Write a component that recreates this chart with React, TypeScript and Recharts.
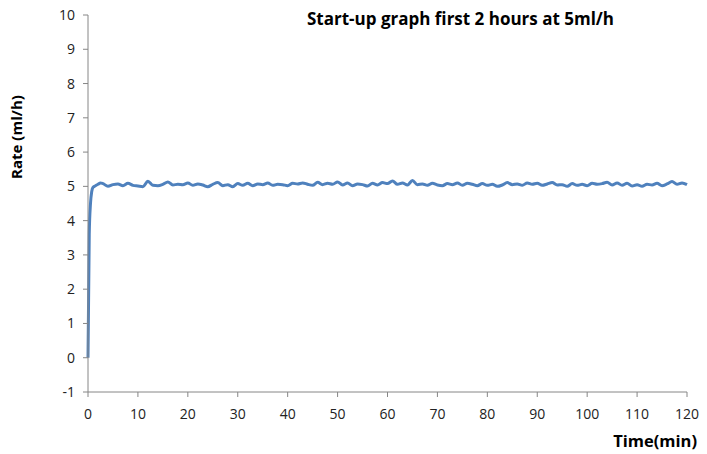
import { LineChart, Line, XAxis, YAxis } from 'recharts';

const timeMin = [
  0, 0.25, 0.5, 0.75, 1, 1.5, 2, 2.5,
  3, 4, 5, 6, 7, 8, 9, 10, 11, 12, 13, 14, 15, 16, 17, 18, 19, 20,
  21, 22, 23, 24, 25, 26, 27, 28, 29, 30, 31, 32, 33, 34, 35, 36, 37, 38, 39, 40,
  41, 42, 43, 44, 45, 46, 47, 48, 49, 50, 51, 52, 53, 54, 55, 56, 57, 58, 59, 60,
  61, 62, 63, 64, 65, 66, 67, 68, 69, 70, 71, 72, 73, 74, 75, 76, 77, 78, 79, 80,
  81, 82, 83, 84, 85, 86, 87, 88, 89, 90, 91, 92, 93, 94, 95, 96, 97, 98, 99, 100,
  101, 102, 103, 104, 105, 106, 107, 108, 109, 110, 111, 112, 113, 114, 115, 116, 117, 118, 119, 120,
];

const rate = [
  0, 3.6, 4.5, 4.85, 4.97, 5.02, 5.06, 5.1,
  5.08, 5.0, 5.05, 5.07, 5.02, 5.09, 5.03, 5.01, 4.99, 5.15, 5.03, 5.02, 5.06, 5.13, 5.04, 5.06, 5.05, 5.1,
  5.03, 5.07, 5.04, 4.99, 5.06, 5.11, 5.02, 5.05, 4.99, 5.08, 5.03, 5.09, 5.02, 5.07, 5.05, 5.1, 5.03, 5.06, 5.05, 5.02,
  5.09, 5.07, 5.1, 5.06, 5.03, 5.12, 5.05, 5.09, 5.06, 5.13, 5.04, 5.1, 5.02, 5.07, 5.05, 5.01, 5.09, 5.04, 5.11, 5.08,
  5.16, 5.06, 5.1, 5.04, 5.17, 5.05, 5.07, 5.03, 5.09, 5.04, 5.02, 5.08, 5.05, 5.1, 5.03, 5.09, 5.06, 5.02, 5.08, 5.03,
  5.06, 5.0, 5.04, 5.11, 5.05, 5.07, 5.03, 5.1, 5.06, 5.09, 5.03, 5.07, 5.11, 5.04, 5.05, 5.0, 5.08, 5.03, 5.06, 5.02,
  5.09, 5.06, 5.08, 5.12, 5.04, 5.1, 5.03, 5.09, 5.01, 5.05, 5.0, 5.06, 5.04, 5.09, 5.02, 5.07, 5.14, 5.06, 5.1, 5.05,
];

const xTicks = [0, 10, 20, 30, 40, 50, 60, 70, 80, 90, 100, 110, 120];
const yTicks = [-1, 0, 1, 2, 3, 4, 5, 6, 7, 8, 9, 10];

const data = timeMin.map((t, i) => ({ t, rate: rate[i] }));

const tickStyle = { fontSize: 14, fill: '#222', fontFamily: 'Open Sans, sans-serif' };
const boldText = { fontFamily: 'Open Sans, sans-serif', fontWeight: 700, color: '#000' };

export default function App() {
  return (
    <div style={{ position: 'absolute', left: 0, top: 0, width: 707, height: 454, background: '#fff' }}>
      <LineChart width={707} height={454} data={data} margin={{ top: 15, right: 20, left: 0, bottom: 32 }}>
        <XAxis
          dataKey="t"
          type="number"
          domain={[0, 120]}
          ticks={xTicks}
          interval={0}
          tick={tickStyle}
          tickSize={5}
          tickMargin={12}
          stroke="#868686"
          height={30}
        />
        <YAxis
          type="number"
          domain={[-1, 10]}
          ticks={yTicks}
          interval={0}
          tick={tickStyle}
          tickSize={5}
          tickMargin={8}
          stroke="#868686"
          width={88}
        />
        <Line
          type="monotone"
          dataKey="rate"
          stroke="#4F81BD"
          strokeWidth={3}
          dot={false}
          isAnimationActive={false}
        />
      </LineChart>
      <div style={{ ...boldText, position: 'absolute', left: 307, top: 7, fontSize: 17, whiteSpace: 'nowrap' }}>
        Start-up graph first 2 hours at 5ml/h
      </div>
      <div
        style={{
          ...boldText,
          position: 'absolute',
          left: 16,
          top: 137,
          fontSize: 15,
          transform: 'translate(-50%, -50%) rotate(-90deg)',
          whiteSpace: 'nowrap',
        }}
      >
        Rate (ml/h)
      </div>
      <div style={{ ...boldText, position: 'absolute', right: 10, top: 429, fontSize: 16.5, whiteSpace: 'nowrap' }}>
        Time(min)
      </div>
    </div>
  );
}
